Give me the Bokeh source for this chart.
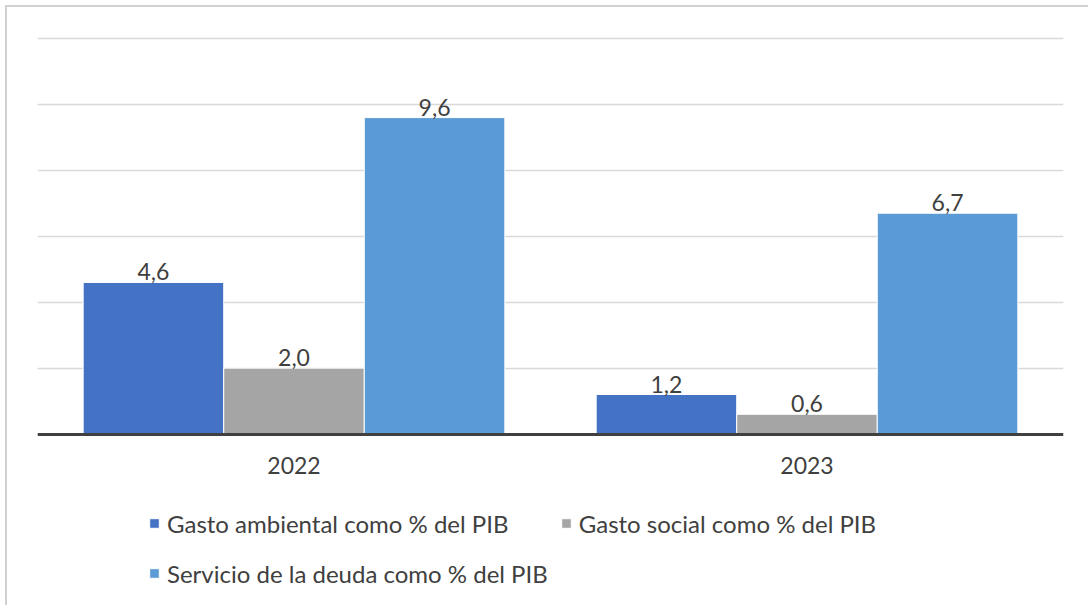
from bokeh.plotting import figure
from bokeh.models import (ColumnDataSource, FactorRange, Range1d, FixedTicker,
                          Legend, LegendItem, LabelSet)
from bokeh.core.properties import value
from bokeh.transform import dodge
from bokeh.embed import file_html
from bokeh.resources import INLINE

years = ["2022", "2023"]
series_names = ["Gasto ambiental como % del PIB",
                "Gasto social como % del PIB",
                "Servicio de la deuda como % del PIB"]
gasto_ambiental = [4.6, 1.2]
gasto_social = [2.0, 0.6]
servicio_deuda = [9.6, 6.7]
y_ticks = [0, 2, 4, 6, 8, 10, 12]

colors = ["#4472C4", "#A5A5A5", "#5B9BD5"]
FONT = "Lato"
TXT = "#404040"

p = figure(x_range=FactorRange(factors=years), y_range=Range1d(-5.2, 12.06),
           width=1088, height=605, output_backend="svg", toolbar_location=None,
           y_axis_location=None, x_axis_location="above", tools="")
p.min_border_left = 37
p.min_border_right = 25
p.min_border_top = 36
p.min_border_bottom = 0
p.outline_line_color = None
p.xgrid.visible = False
p.ygrid.ticker = FixedTicker(ticks=y_ticks)
p.ygrid.grid_line_color = "#d9d9d9"
p.ygrid.grid_line_width = 1.5
p.background_fill_color = "white"
p.border_fill_color = None
p.styles = {
    "background-color": "white",
    "background-image": "linear-gradient(#d0d0d0, #d0d0d0), linear-gradient(#d0d0d0, #d0d0d0)",
    "background-size": "2px 100%, 100% 2px",
    "background-position": "5px 5px, 5px 5px",
    "background-repeat": "no-repeat",
}

w = 0.274
offsets = [-w, 0.0, w]
data_lists = [gasto_ambiental, gasto_social, servicio_deuda]
items = []
for name, vals, col, off in zip(series_names, data_lists, colors, offsets):
    src = ColumnDataSource(dict(x=years, top=vals,
                                lab=[f"{v:.1f}".replace(".", ",") for v in vals]))
    r = p.vbar(x=dodge("x", off, range=p.x_range), top="top", bottom=0, width=w, source=src,
               fill_color=col, line_color="white", line_width=1)
    items.append(LegendItem(label=name, renderers=[r]))
    labels = LabelSet(x=dodge("x", off, range=p.x_range), y="top", text="lab", source=src,
                      text_align="center", text_baseline="bottom", y_offset=2,
                      text_font=value(FONT), text_font_size="23px", text_color=TXT)
    p.add_layout(labels)

ax = p.xaxis[0]
ax.fixed_location = 0
ax.axis_line_color = "#404040"
ax.axis_line_width = 3
ax.major_tick_line_color = None
ax.minor_tick_line_color = None
ax.major_label_text_font = FONT
ax.major_label_text_font_size = "23px"
ax.major_label_text_color = TXT
ax.major_label_standoff = -46

# legend is filled column by column: put the items so rows read 1, 2 / 3
legend_items = [items[0], items[2], items[1]]
legend = Legend(items=legend_items, ncols=2, location=(111, 13))
legend.label_text_font = FONT
legend.label_text_font_size = "24px"
legend.label_text_color = TXT
legend.glyph_width = 12
legend.glyph_height = 12
legend.label_height = 38
legend.label_standoff = 7
legend.spacing = 12
legend.padding = 0
legend.margin = 0
legend.border_line_color = None
legend.background_fill_alpha = 0
p.add_layout(legend)

open("out.html", "w").write(file_html(p, INLINE))
